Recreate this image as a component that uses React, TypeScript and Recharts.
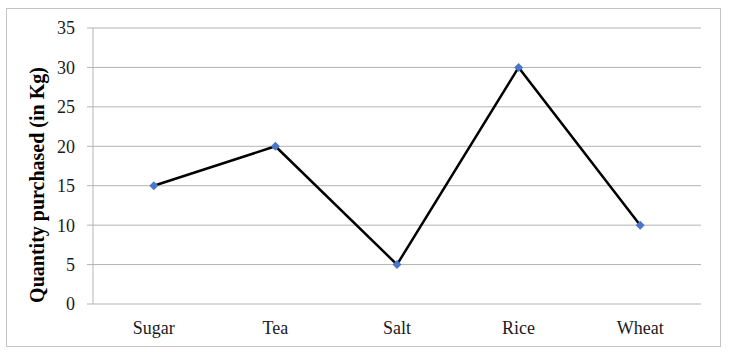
import { LineChart, Line, CartesianGrid, XAxis, YAxis } from "recharts";

const categories = ["Sugar", "Tea", "Salt", "Rice", "Wheat"];
const quantities = [15, 20, 5, 30, 10];
const yTicks = [0, 5, 10, 15, 20, 25, 30, 35];
const edgeTicks = [0, 1, 2, 3, 4, 5];

const chartData = categories.map((name, i) => ({ name, qty: quantities[i] }));

const FONT = "'Liberation Serif', serif";
const GRID = "#b3b3b3";

const Diamond = (props: any) => {
  const { cx, cy, index } = props;
  if (cx == null || cy == null) return null;
  const r = 4.5;
  return (
    <path
      key={"d" + index}
      d={`M${cx},${cy - r} L${cx + r},${cy} L${cx},${cy + r} L${cx - r},${cy} Z`}
      fill="#4a76c9"
      stroke="none"
    />
  );
};

const YLabel = (props: any) => {
  const vb = props.viewBox || {};
  const x = (vb.x ?? 0) + 37;
  const y = (vb.y ?? 0) + (vb.height ?? 0) / 2 + 19;
  return (
    <text
      x={x}
      y={y}
      transform={`rotate(-90, ${x}, ${y})`}
      textAnchor="middle"
      dominantBaseline="central"
      fontFamily={FONT}
      fontWeight="bold"
      fontSize={20}
      fill="#000"
    >
      Quantity purchased (in Kg)
    </text>
  );
};

export default function App() {
  return (
    <div style={{ position: "absolute", left: 0, top: 0, width: 731, height: 352, background: "#fff" }}>
      <div
        style={{
          position: "absolute",
          left: 6,
          top: 8,
          width: 715,
          height: 339,
          border: "1px solid #c4c4c4",
          boxSizing: "border-box",
        }}
      />
      <LineChart
        width={731}
        height={352}
        data={chartData}
        margin={{ top: 28, right: 30, bottom: 0, left: 0 }}
        style={{ position: "absolute", left: 0, top: 0 }}
      >
        <CartesianGrid vertical={false} stroke={GRID} strokeWidth={1} />
        <XAxis
          xAxisId="edges"
          type="number"
          domain={[0, 5]}
          ticks={edgeTicks}
          tick={false}
          height={0}
          axisLine={{ stroke: GRID }}
          tickLine={{ stroke: GRID }}
          tickSize={5}
        />
        <XAxis
          dataKey="name"
          scale="band"
          height={48}
          axisLine={false}
          tickLine={false}
          tickMargin={11}
          tick={{ fill: "#1a1a1a", fontFamily: FONT, fontSize: 18 }}
        />
        <YAxis
          width={93}
          domain={[0, 35]}
          ticks={yTicks}
          interval={0}
          axisLine={{ stroke: GRID }}
          tickLine={{ stroke: GRID }}
          tickSize={6}
          tickMargin={12}
          tick={{ fill: "#1a1a1a", fontFamily: FONT, fontSize: 18 }}
          label={<YLabel />}
        />
        <Line
          dataKey="qty"
          type="linear"
          stroke="#000"
          strokeWidth={2.5}
          dot={Diamond}
          activeDot={false}
          isAnimationActive={false}
        />
      </LineChart>
    </div>
  );
}
